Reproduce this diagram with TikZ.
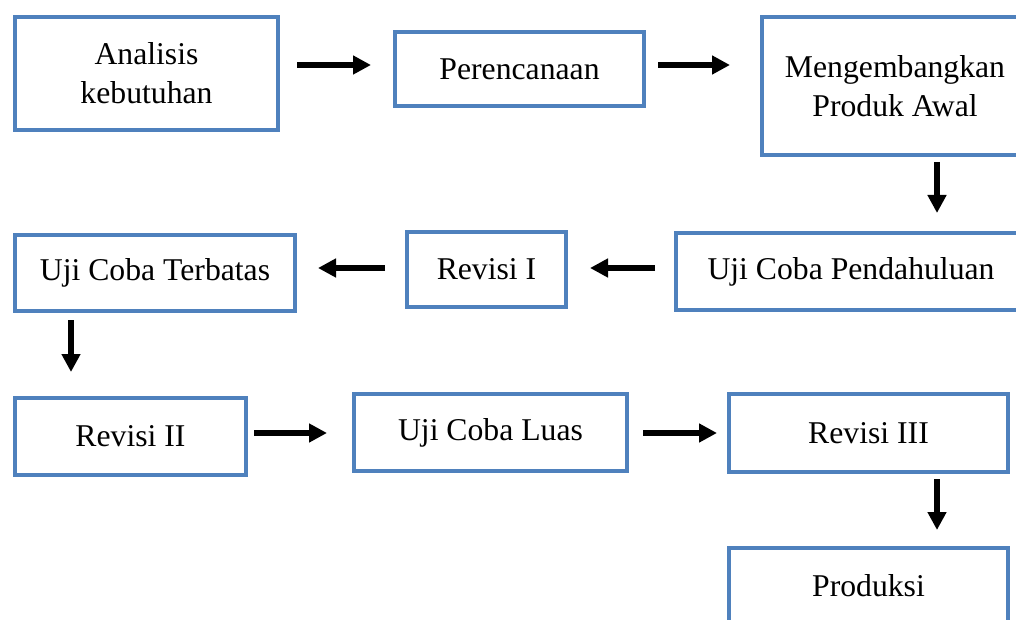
\documentclass[tikz,border=0pt]{standalone}
\usepackage{fontspec}
\setmainfont{Liberation Serif}
\usetikzlibrary{arrows.meta,calc}
\definecolor{boxblue}{HTML}{4F81BD}
\begin{document}
\begin{tikzpicture}[x=1pt,y=-1pt,
  box/.style={draw=boxblue, line width=4pt, fill=white, align=center,
    font=\fontsize{31.7}{39}\selectfont, inner sep=0pt},
  flow/.style={line width=5.5pt, -{Triangle[length=18pt,width=18pt]}}]
\useasboundingbox (0,0) rectangle (1016,620);
\node[box, minimum width=263pt, minimum height=113pt] (A) at (146.5,73.5) {Analisis\\kebutuhan};
\node[box, minimum width=249pt, minimum height=74pt] (P) at (519.5,69) {Perencanaan};
\node[box, minimum width=266pt, minimum height=138pt] (M) at (895,86) {Mengembangkan\\Produk Awal};
\node[box, minimum width=350pt, minimum height=77pt] (UCP) at (851,271.5) {Uji Coba Pendahuluan};
\node[box, minimum width=159pt, minimum height=75pt] (R1) at (486.5,269.5) {Revisi I};
\node[box, minimum width=280pt, minimum height=76pt] (UCT) at (155,273) {Uji Coba Terbatas};
\node[box, minimum width=231pt, minimum height=77pt] (R2) at (130.5,436.5) {Revisi II};
\node[box, minimum width=273pt, minimum height=77pt] (UCL) at (490.5,432.5) {Uji Coba Luas};
\node[box, minimum width=279pt, minimum height=78pt] (R3) at (868.5,433) {Revisi III};
\node[box, minimum width=279pt, minimum height=76pt] (PR) at (868.5,586) {Produksi};

\draw[flow] ($(A.east)+(17,-8.5)$) -- ($(P.west)+(-22,-4)$);
\draw[flow] ($(P.east)+(12,-4)$) -- ($(M.west)+(-30,-21)$);
\draw[flow] ($(M.south)+(42,5)$) -- ($(UCP.north)+(86,-18)$);
\draw[flow] ($(UCP.west)+(-19,-3.5)$) -- ($(R1.east)+(22,-1.5)$);
\draw[flow] ($(R1.west)+(-20,-1.5)$) -- ($(UCT.east)+(21,-5)$);
\draw[flow] ($(UCT.south)+(-84,7)$) -- ($(R2.north)+(-59.5,-24)$);
\draw[flow] ($(R2.east)+(6,-3.5)$) -- ($(UCL.west)+(-25,0.5)$);
\draw[flow] ($(UCL.east)+(14,0.5)$) -- ($(R3.west)+(-10,0)$);
\draw[flow] ($(R3.south)+(68.5,5)$) -- ($(PR.north)+(68.5,-16)$);
\end{tikzpicture}
\end{document}
